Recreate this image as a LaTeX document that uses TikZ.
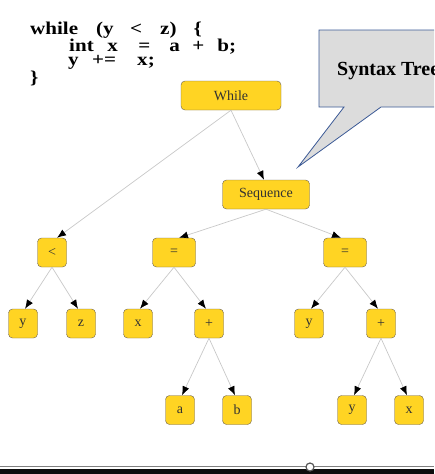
\documentclass[tikz,border=0pt]{standalone}
\usepackage{fontspec}
\setmainfont{Liberation Serif}
\usetikzlibrary{arrows.meta}

\definecolor{nodegold}{RGB}{255,212,35}
\definecolor{nodeedge}{RGB}{105,95,80}
\definecolor{nodetext}{RGB}{50,50,50}
\definecolor{edgegray}{RGB}{200,200,200}
\definecolor{calloutfill}{RGB}{220,220,220}
\definecolor{calloutedge}{RGB}{60,90,150}

\newcommand{\codewide}[1]{\scalebox{1.17}[1]{#1}}

\begin{document}
\begin{tikzpicture}[x=1pt, y=-1pt,
    treenode/.style={draw=nodeedge, fill=nodegold, rounded corners=4pt, minimum width=29pt,
        minimum height=29pt, inner sep=0pt, text=nodetext, font=\fontsize{14}{14}\selectfont},
    directed/.style={draw=edgegray, line width=0.7pt, -{Latex[black,length=9pt,width=7pt]}},
    codeline/.style={anchor=base west, inner sep=0pt, font=\fontsize{18}{18}\selectfont\bfseries}
]
    \useasboundingbox (0,0) rectangle (434,474);
    \clip (0,0) rectangle (434,474);

    % Code
    \node[codeline] (code1) at (30,34) {\codewide{while}\hspace{18pt}\codewide{(y}\hspace{16.5pt}\codewide{<}\hspace{18pt}\codewide{z)}\hspace{17pt}\codewide{\{}};
    \node[codeline] (code2) at (69,51) {\codewide{int}\hspace{13.5pt}\codewide{x}\hspace{20.5pt}\codewide{=}\hspace{19pt}\codewide{a}\hspace{12.5pt}\codewide{+}\hspace{13pt}\codewide{b;}};
    \node[codeline] (code3) at (68,65) {\codewide{y}\hspace{13.5pt}\codewide{+=}\hspace{21pt}\codewide{x;}};
    \node[codeline] (code4) at (30,83) {\codewide{\}}};

    % Callout
    \draw[draw=calloutedge, fill=calloutfill, line width=0.8pt]
        (319,30) -- (445,30) -- (445,107) -- (381,107) -- (298,167) -- (344,107) -- (319,107) -- cycle;
    \node[anchor=base west, inner sep=0pt, font=\fontsize{20}{20}\selectfont\bfseries] (title) at (337,75) {Syntax Tree};

    % Nodes
    \node[treenode, minimum width=100pt] (while) at (231,95.5) {While};
    \node[treenode, minimum width=87pt] (seq) at (266,194.5) {Sequence};
    \node[treenode] (less) at (52,252.5) {<};
    \node[treenode, minimum width=43pt] (assign1) at (174,252.5) {=};
    \node[treenode, minimum width=43pt] (assign2) at (345,252.5) {=};
    \node[treenode] (y1) at (23,323.5) {y};
    \node[treenode] (z1) at (81,323.5) {z};
    \node[treenode] (x1) at (138,323.5) {x};
    \node[treenode] (plus1) at (209,323.5) {+};
    \node[treenode] (y2) at (309,323.5) {y};
    \node[treenode] (plus2) at (381,323.5) {+};
    \node[treenode] (a1) at (180,410) {a};
    \node[treenode] (b1) at (237,410) {b};
    \node[treenode] (y3) at (352,410) {y};
    \node[treenode] (x2) at (409,410) {x};

    % Edges
    \draw[directed] (while.south) -- ([xshift=5pt]less.north);
    \draw[directed] (while.south) -- ([xshift=-2pt]seq.north);
    \draw[directed] (seq.south) -- ([xshift=5pt]assign1.north);
    \draw[directed] (seq.south) -- ([xshift=-4pt]assign2.north);
    \draw[directed] (less.south) -- ([xshift=2pt]y1.north);
    \draw[directed] (less.south) -- ([xshift=-3pt]z1.north);
    \draw[directed] (assign1.south) -- ([xshift=2pt]x1.north);
    \draw[directed] (assign1.south) -- ([xshift=-3pt]plus1.north);
    \draw[directed] (assign2.south) -- ([xshift=2pt]y2.north);
    \draw[directed] (assign2.south) -- ([xshift=-3pt]plus2.north);
    \draw[directed] (plus1.south) -- ([xshift=2pt]a1.north);
    \draw[directed] (plus1.south) -- ([xshift=-2pt]b1.north);
    \draw[directed] (plus2.south) -- ([xshift=2pt]y3.north);
    \draw[directed] (plus2.south) -- ([xshift=-2pt]x2.north);

    % Bottom bar
    \fill[black!95] (0,469) rectangle (434,474);
    \draw[gray, line width=1.5pt] (0,466.5) -- (434,466.5);
    \node[circle, draw=black!65, fill=white, line width=1.2pt, minimum size=8pt, inner sep=0pt] (knob) at (310,467) {};
\end{tikzpicture}
\end{document}
